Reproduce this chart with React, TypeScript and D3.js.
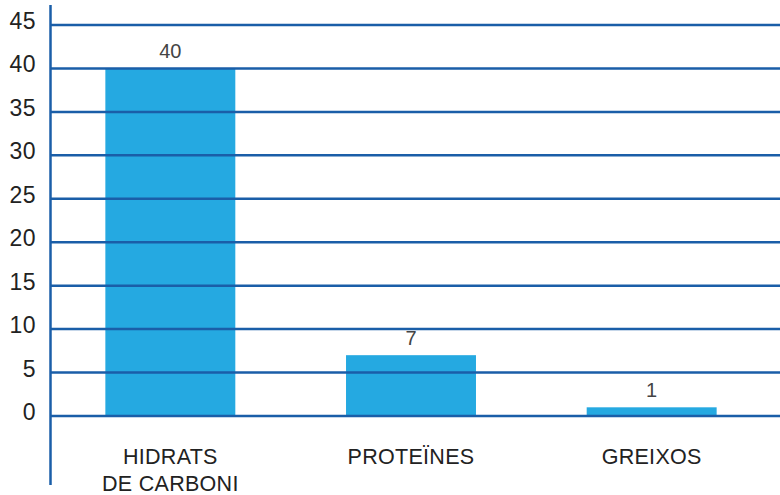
import React from "react";
import * as d3 from "d3";

const categories: string[][] = [["HIDRATS", "DE CARBONI"], ["PROTEÏNES"], ["GREIXOS"]];
const values: number[] = [40, 7, 1];
const yTicks: number[] = [0, 5, 10, 15, 20, 25, 30, 35, 40, 45];

const W = 780;
const H = 495;
const FONT = "'Liberation Sans', Arial, Helvetica, sans-serif";
const BAR = "#25a9e1";
const LINE = "#1a5ea8";

export default function App() {
  const y = d3.scaleLinear().domain([0, 45]).range([416, 25]);
  const x = d3
    .scaleBand<number>()
    .domain(values.map((_, i) => i))
    .range([50, 772])
    .paddingInner(0.46)
    .paddingOuter(0.23);

  return (
    <svg
      width={W}
      height={H}
      style={{ position: "absolute", left: 0, top: 0, background: "#fff" }}
      fontFamily={FONT}
    >
      {/* bars */}
      {values.map((v, i) => (
        <rect
          key={"b" + i}
          x={x(i)}
          y={y(v)}
          width={x.bandwidth()}
          height={y(0) - y(v)}
          fill={BAR}
        />
      ))}
      {/* horizontal gridlines */}
      {yTicks.map((t) => (
        <line key={"g" + t} x1={50} x2={W} y1={y(t)} y2={y(t)} stroke={LINE} strokeWidth={2.5} />
      ))}
      {/* vertical axis */}
      <line x1={50.5} x2={50.5} y1={5} y2={485} stroke={LINE} strokeWidth={2.5} />
      {/* tick labels */}
      {yTicks.map((t) => (
        <text
          key={"t" + t}
          x={36}
          y={y(t) - 4}
          textAnchor="end"
          dominantBaseline="central"
          fontSize={23}
          letterSpacing={0.5}
          fill="#222"
        >
          {t}
        </text>
      ))}
      {/* value labels */}
      {values.map((v, i) => (
        <text
          key={"v" + i}
          x={(x(i) ?? 0) + x.bandwidth() / 2}
          y={y(v) - 17}
          textAnchor="middle"
          dominantBaseline="central"
          fontSize={20}
          fill="#444"
        >
          {v}
        </text>
      ))}
      {/* category labels */}
      {categories.map((lines, i) => (
        <text
          key={"c" + i}
          x={(x(i) ?? 0) + x.bandwidth() / 2}
          textAnchor="middle"
          fontSize={21.5}
          letterSpacing={0.3}
          fill="#222"
        >
          {lines.map((l, j) => (
            <tspan key={j} x={(x(i) ?? 0) + x.bandwidth() / 2} y={457 + j * 27} dominantBaseline="central">
              {l}
            </tspan>
          ))}
        </text>
      ))}
    </svg>
  );
}
